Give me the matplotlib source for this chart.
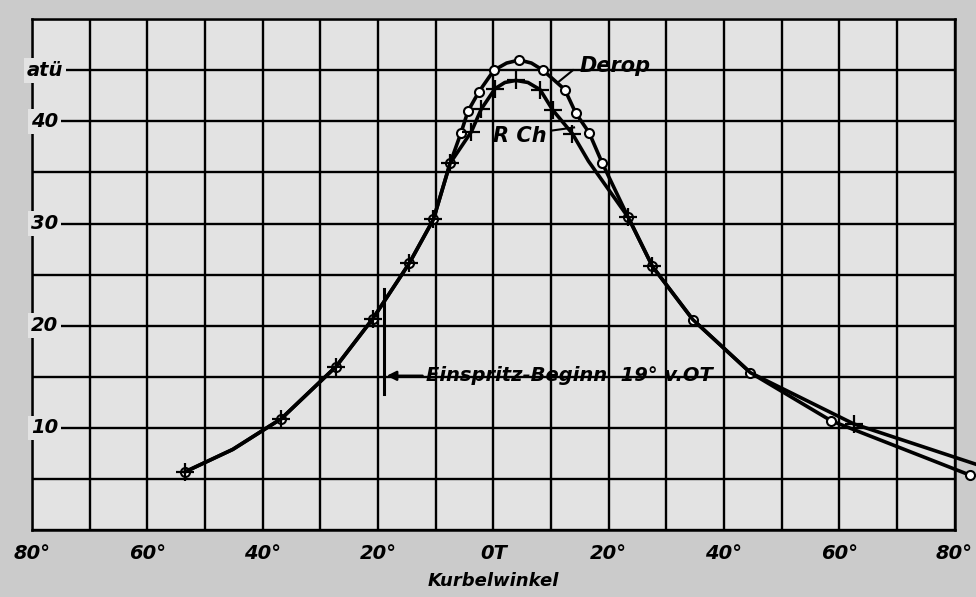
import matplotlib
matplotlib.use("Agg")
import matplotlib.pyplot as plt
import numpy as np

# Zünddruckverlauf, Kurbelwinkel in Grad (v. OT negativ), Druck in atü
derop_deg = [-53.5, -45.2, -36.8, -27.3, -20.9, -14.6, -10.4, -7.5, -5.6, -4.4, -2.5, 0.1,
             2.3, 4.5, 6.6, 8.6, 12.4, 14.3, 16.6, 18.9, 23.4, 27.6, 34.6, 44.6, 58.6, 82.6]
derop_atu = [5.7, 7.9, 10.9, 16.0, 20.7, 26.1, 30.4, 35.9, 38.9, 41.0, 42.9, 45.0,
             45.7, 46.0, 45.7, 45.0, 43.1, 40.8, 38.9, 35.9, 30.6, 25.8, 20.6, 15.4, 10.7, 5.4]
derop_marks = [0, 2, 3, 4, 5, 6, 7, 8, 9, 10, 11, 13, 15, 16, 17, 18, 19, 20, 21, 22, 23, 24, 25]

rch_deg = [-53.5, -45.2, -36.8, -27.3, -20.9, -14.6, -10.4, -7.5, -3.8, -2.1, 0.3, 2.0,
           3.9, 6.0, 8.1, 10.3, 13.7, 16.5, 23.4, 27.6, 34.6, 44.6, 62.5, 84.5]
rch_atu = [5.7, 7.9, 10.9, 16.0, 20.7, 26.1, 30.4, 35.9, 39.0, 41.2, 43.2, 43.8,
           44.0, 43.8, 43.1, 41.1, 38.8, 36.1, 30.6, 25.8, 20.6, 15.4, 10.4, 6.3]
rch_marks = [0, 2, 3, 4, 5, 6, 7, 8, 9, 10, 12, 14, 15, 16, 18, 19, 22]

x_ticks = [-80, -60, -40, -20, 0, 20, 40, 60, 80]
x_labels = ['80°', '60°', '40°', '20°', '0T', '20°', '40°', '60°', '80°']
y_labels = {10: '10', 20: '20', 30: '30', 40: '40', 45: 'atü'}
einspritz = -19

bg_out = '#cbcbcb'
bg_in = '#e3e3e3'
font = dict(family='DejaVu Sans', weight='bold', style='italic')

fig = plt.figure(figsize=(9.76, 5.97), dpi=100, facecolor=bg_out)
ax = fig.add_axes([0.033, 0.112, 0.945, 0.856], facecolor=bg_in)
ax.set_xlim(-80, 80)
ax.set_ylim(0, 50)

# Raster
ax.set_xticks(np.arange(-80, 81, 10), minor=True)
ax.set_xticks(x_ticks)
ax.set_xticklabels(x_labels, fontsize=14, **font)
ax.set_yticks(np.arange(0, 51, 5))
ax.set_yticklabels([])
ax.tick_params(which='both', length=0, pad=10)
ax.grid(which='both', color='black', linewidth=1.7)
for s in ax.spines.values():
    s.set_linewidth(1.8)
ax.set_axisbelow(True)

# Achsbeschriftung im ersten Feld
for v, t in y_labels.items():
    ax.text(-77.8, v, t, fontsize=14, ha='center', va='center', zorder=3,
            bbox=dict(boxstyle='square,pad=0.15', fc=bg_in, ec='none'), **font)

ax.text(0, -0.1, 'Kurbelwinkel', transform=ax.get_xaxis_transform(),
        fontsize=13, ha='center', va='center', **font)

# Kurven
ax.plot(derop_deg, derop_atu, color='black', lw=2.6, marker='o', ms=6.5,
        mfc='white', mec='black', mew=1.5, markevery=derop_marks, clip_on=False, zorder=4)
ax.plot(rch_deg, rch_atu, color='black', lw=2.6, marker='+', ms=13,
        mew=1.6, markevery=rch_marks, clip_on=False, zorder=5)

# Beschriftung der Kurven
ax.plot([11.4, 13.8], [43.9, 45.0], color='black', lw=1.5, zorder=4)
ax.text(15.0, 45.4, 'Derop', fontsize=15, ha='left', va='center', **font)
ax.plot([10.2, 14.0], [39.1, 39.4], color='black', lw=1.5, zorder=4)
ax.text(0.0, 38.6, 'R Ch', fontsize=15, ha='left', va='center', **font)

# Einspritz-Beginn
ax.plot([einspritz, einspritz], [13.3, 23.6], color='black', lw=2.2, zorder=4)
ax.annotate('', xy=(einspritz, 15.1), xytext=(-11.8, 15.1),
            arrowprops=dict(arrowstyle='-|>', color='black', lw=1.8, mutation_scale=14))
ax.text(-11.6, 15.1, 'Einspritz-Beginn  19° v.OT', fontsize=14, ha='left',
        va='center', **font)

fig.savefig('out.png', dpi=100, facecolor=bg_out)
